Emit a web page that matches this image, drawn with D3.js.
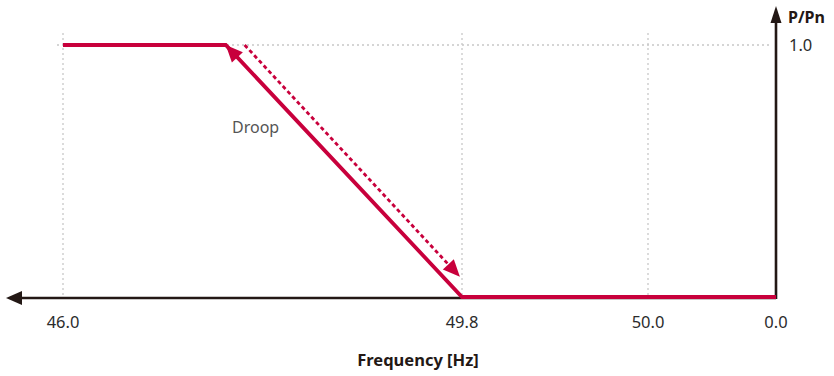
<!DOCTYPE html>
<html><head><meta charset="utf-8">
<script src="https://cdn.jsdelivr.net/npm/d3@7"></script>
<style>
html,body{margin:0;padding:0;background:#fff;}
svg{display:block;}
text{font-family:"Noto Sans",sans-serif;}
</style></head>
<body><svg id="c" width="834" height="376"></svg>
<script>
// ---- data ----
const tickValues = [46.0, 49.8, 50.0, 50.2];
const tickLabels = ["46.0", "49.8", "50.0", "0.0"];
const droopFreq  = [46.0, 47.55, 49.8, 50.2];
const droopPower = [1.0, 1.0, 0.0, 0.0];
const yTicks = [1.0];
const yTickLabels = ["1.0"];
const dashedFreq = [47.73, 49.78];
const dashedPower = [1.0, 0.08];
const solidArrowFreq = [49.8, 47.55];
const solidArrowPower = [0.0, 1.0];

const svg = d3.select("#c");
const red = "#c8003c", dark = "#231815", grid = "#c8c8c8";

const x = d3.scaleLinear().domain(tickValues).range([63, 462, 648, 776]);
const y = d3.scaleLinear().domain([0, 1]).range([297, 45]);

// grid
svg.append("g").selectAll("line.v").data(tickValues.slice(0, 3)).join("line")
  .attr("x1", d => x(d)).attr("x2", d => x(d)).attr("y1", 33).attr("y2", y(0))
  .attr("stroke", grid).attr("stroke-width", 1.3).attr("stroke-dasharray", "2,3");
svg.append("g").selectAll("line.h").data(yTicks).join("line")
  .attr("x1", 57).attr("x2", x(50.2) - 4).attr("y1", d => y(d)).attr("y2", d => y(d))
  .attr("stroke", grid).attr("stroke-width", 1.3).attr("stroke-dasharray", "2,3");

// axes
const ox = x(50.2), oy = y(0) + 1;
svg.append("line").attr("x1", ox).attr("x2", 20).attr("y1", oy).attr("y2", oy)
  .attr("stroke", dark).attr("stroke-width", 2.6);
svg.append("path").attr("d", `M6,${oy} L22,${oy-7} L22,${oy+7} Z`).attr("fill", dark);
svg.append("line").attr("x1", ox).attr("x2", ox).attr("y1", oy + 1).attr("y2", 20)
  .attr("stroke", dark).attr("stroke-width", 2.6);
svg.append("path").attr("d", `M${ox},6 L${ox-5.5},23 L${ox+5.5},23 Z`).attr("fill", dark);

// tick labels
svg.append("g").selectAll("text").data(tickValues).join("text")
  .attr("x", d => x(d)).attr("y", 328).attr("text-anchor", "middle")
  .attr("font-size", 16.5).attr("fill", "#2b2b2b").text((d, i) => tickLabels[i]);
svg.append("g").selectAll("text").data(yTicks).join("text")
  .attr("x", 789).attr("y", d => y(d) + 6).attr("font-size", 16.5).attr("fill", "#2b2b2b")
  .text((d, i) => yTickLabels[i]);
svg.append("text").attr("x", 788).attr("y", 23).attr("font-size", 16).attr("font-weight", "bold")
  .attr("fill", dark).text("P/Pn");
svg.append("text").attr("x", 418).attr("y", 366).attr("text-anchor", "middle")
  .attr("font-size", 16.5).attr("font-weight", "bold").attr("fill", dark).text("Frequency [Hz]");
svg.append("text").attr("x", 232).attr("y", 133).attr("font-size", 16).attr("fill", "#555").text("Droop");

// droop curve
const pts = droopFreq.map((f, i) => [x(f), y(droopPower[i])]);
svg.append("path").attr("d", d3.line()(pts)).attr("fill", "none")
  .attr("stroke", red).attr("stroke-width", 3.8).attr("stroke-linejoin", "miter");

function arrowHead(p0, p1, len, hw) {
  const dx = p1[0] - p0[0], dy = p1[1] - p0[1], L = Math.hypot(dx, dy);
  const ux = dx / L, uy = dy / L;
  const bx = p1[0] - ux * len, by = p1[1] - uy * len;
  return `M${p1[0]},${p1[1]} L${bx - uy * hw},${by + ux * hw} L${bx + uy * hw},${by - ux * hw} Z`;
}
// solid arrow head at knee
const sa = solidArrowFreq.map((f, i) => [x(f), y(solidArrowPower[i])]);
svg.append("path").attr("d", arrowHead(sa[0], sa[1], 17, 7.5)).attr("fill", red);

// dashed arrow
const da = dashedFreq.map((f, i) => [x(f), y(dashedPower[i])]);
const dx = da[1][0] - da[0][0], dyy = da[1][1] - da[0][1], dl = Math.hypot(dx, dyy);
const endLine = [da[1][0] - dx / dl * 12, da[1][1] - dyy / dl * 12];
svg.append("path").attr("d", d3.line()([da[0], endLine])).attr("fill", "none")
  .attr("stroke", red).attr("stroke-width", 2.8).attr("stroke-dasharray", "4,3");
svg.append("path").attr("d", arrowHead(da[0], da[1], 17, 7.5)).attr("fill", red);
</script></body></html>
